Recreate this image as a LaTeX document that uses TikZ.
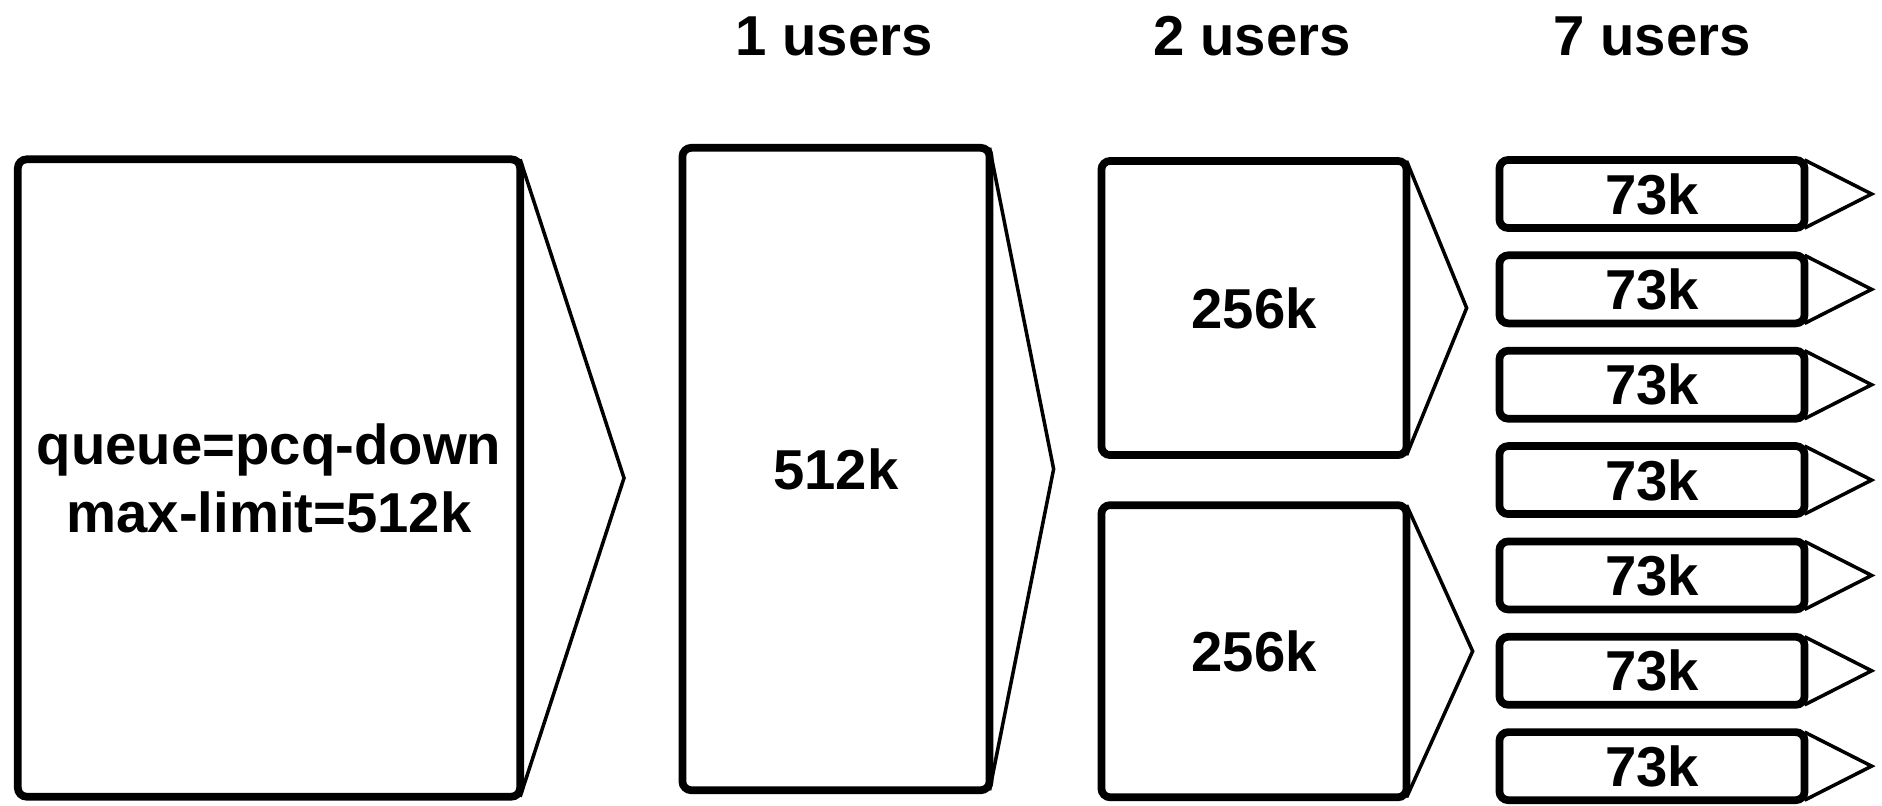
\documentclass[tikz,border=0pt]{standalone}
\usepackage{fontspec}
\setmainfont{Liberation Sans}
\usetikzlibrary{positioning}
\begin{document}
\begin{tikzpicture}[x=0.01cm, y=-0.01cm,
    qbox/.style={draw, line width=2.2pt, rounded corners=2.5pt, outer sep=0pt, inner sep=0pt,
        font=\bfseries\fontsize{16}{19.4}\selectfont, align=center},
    userbox/.style={qbox, minimum width=3.05cm, minimum height=0.68cm},
    tri/.style={line width=1pt},
    head/.style={font=\bfseries\fontsize{16}{19.4}\selectfont}]
    \useasboundingbox (0,0) rectangle (1882,805);
    % headers
    \node[head] (h1) at (834,36) {1 users};
    \node[head] (h2) at (1252,36) {2 users};
    \node[head] (h7) at (1652,36) {7 users};
    % parent queue
    \node[qbox, minimum width=5.02cm, minimum height=6.37cm] (parent) at (269,478) {queue=pcq-down\\max-limit=512k};
    \coordinate (parenttip) at (624,478);
    \draw[tri] (parent.north east) -- (parenttip) -- (parent.south east);
    % one user
    \node[qbox, minimum width=3.07cm, minimum height=6.42cm] (one) at (836,469) {512k};
    \coordinate (onetip) at ([xshift=0.64cm]one.east);
    \draw[tri] (one.north east) -- (onetip) -- (one.south east);
    % two users
    \node[qbox, minimum width=3.05cm, minimum height=2.94cm] (s1) at (1254,308) {256k};
    \node[qbox, minimum width=3.05cm, minimum height=2.92cm, below=0.5cm of s1] (s2) {256k};
    \coordinate (s1tip) at ([xshift=0.60cm]s1.east);
    \coordinate (s2tip) at ([xshift=0.66cm]s2.east);
    \draw[tri] (s1.north east) -- (s1tip) -- (s1.south east);
    \draw[tri] (s2.north east) -- (s2tip) -- (s2.south east);
    % seven users
    \node[userbox] (u1) at (1652,194) {73k};
    \node[userbox, below=0.273cm of u1] (u2) {73k};
    \node[userbox, below=0.273cm of u2] (u3) {73k};
    \node[userbox, below=0.273cm of u3] (u4) {73k};
    \node[userbox, below=0.273cm of u4] (u5) {73k};
    \node[userbox, below=0.273cm of u5] (u6) {73k};
    \node[userbox, below=0.273cm of u6] (u7) {73k};
    \foreach \u in {u1,u2,u3,u4,u5,u6,u7} {
        \coordinate (\u tip) at ([xshift=0.67cm]\u.east);
        \draw[tri] (\u.north east) -- (\u tip) -- (\u.south east);
    }
\end{tikzpicture}
\end{document}
